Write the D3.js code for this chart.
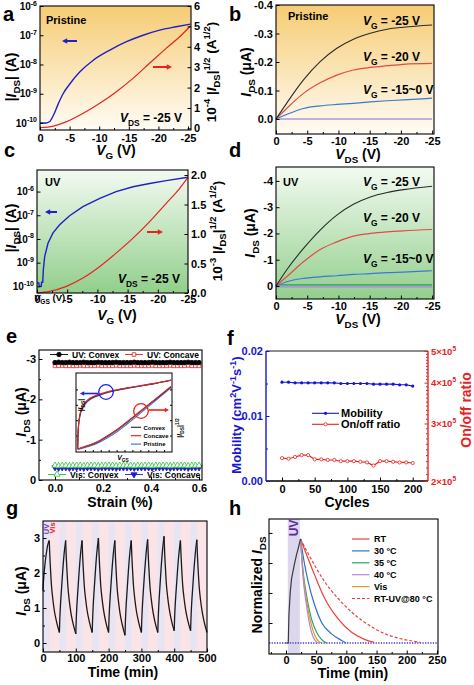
<!DOCTYPE html>
<html><head><meta charset="utf-8">
<script src="https://cdn.jsdelivr.net/npm/d3@7"></script>
<style>body{margin:0;background:#fff}svg{display:block}</style>
</head><body><svg id="c" width="474" height="685"></svg>
<script>
// ---------------- DATA ----------------
// (a) Pristine transfer curve
const aVg = [0,-1.0,-1.6,-2.25,-3.1,-3.9,-5.06,-6.74,-9,-11.8,-14.6,-17.4,-20.2,-23,-25.4];
const aIds = [1.0e-10,1.0e-10,1.1e-10,1.8e-10,4.6e-10,1.0e-9,2.2e-9,5.6e-9,1.4e-8,3.1e-8,6.0e-8,1.0e-7,1.5e-7,1.95e-7,2.4e-7];
const aVgSqrt = [0,-2.25,-4.5,-7.3,-10.1,-12.9,-15.7,-18.5,-21.3,-23.9,-25.4];
const aSqrt = [0.03,0.11,0.33,0.74,1.23,1.80,2.45,3.19,3.92,4.58,5.02];
const aLogTicks = [1e-10,1e-9,1e-8,1e-7,1e-6];
const aSqrtTicks = [0,1,2,3,4,5,6];
const vgTicks = [0,-5,-10,-15,-20,-25];
// (b) Pristine output curves
const vds = [0,-1.7,-4.4,-7.07,-9.74,-12.4,-15.1,-17.8,-20.4,-25];
const bI25 = [0,-0.055,-0.137,-0.201,-0.248,-0.280,-0.301,-0.315,-0.322,-0.330];
const bI20 = [0,-0.037,-0.090,-0.127,-0.154,-0.172,-0.181,-0.187,-0.192,-0.195];
const bI15 = [0,-0.016,-0.037,-0.046,-0.051,-0.055,-0.060,-0.064,-0.067,-0.073];
const bI0 = [0,0,0,0,0,0,0,0,0,0];
const bTicks = [0,-0.1,-0.2,-0.3,-0.4];
// (c) UV transfer curve
const cVg = [0,-0.3,-0.36,-0.7,-0.76,-0.95,-1.05,-1.27,-1.82,-2.65,-3.75,-5.4,-7.6,-10.4,-13.1,-15.9,-18.65,-21.4,-25];
const cIds = [1.4e-10,1.4e-10,1.0e-10,1.0e-10,1.5e-10,1.5e-10,5.0e-10,1.8e-9,6.6e-9,1.8e-8,4.0e-8,9.5e-8,2.3e-7,5.2e-7,1.0e-6,1.6e-6,2.2e-6,2.9e-6,4.0e-6];
const cVgSqrt = [0,-2.1,-4.86,-7.6,-10.4,-13.1,-15.9,-18.65,-21.4,-23.6,-25];
const cSqrt = [0,0.028,0.113,0.254,0.45,0.676,0.93,1.21,1.52,1.77,1.96];
const cSqrtTicks = [0,0.5,1.0,1.5,2.0];
// (d) UV output curves
const dI25 = [0,-0.61,-1.43,-2.13,-2.70,-3.11,-3.39,-3.56,-3.67,-3.80];
const dI20 = [0,-0.35,-0.92,-1.39,-1.68,-1.90,-2.00,-2.06,-2.10,-2.15];
const dI15 = [0,-0.16,-0.29,-0.35,-0.39,-0.44,-0.47,-0.51,-0.53,-0.58];
const dIg = [-0.04,-0.04,-0.04,-0.04,-0.04,-0.04,-0.04,-0.04,-0.04,-0.04];
const dI0 = [0.03,0.03,0.03,0.03,0.03,0.03,0.03,0.03,0.03,0.03];
const dTicks = [0,-1,-2,-3,-4];
// (e) strain
const strain = [0,0.015,0.03,0.045,0.06,0.075,0.09,0.105,0.12,0.135,0.15,0.165,0.18,0.195,0.21,0.225,0.24,0.255,0.27,0.285,0.3,0.315,0.33,0.345,0.36,0.375,0.39,0.405,0.42,0.435,0.45,0.465,0.48,0.495,0.51,0.525,0.54,0.555,0.57,0.585,0.6];
const uvConvex = [-2.91,-2.92,-2.91,-2.91,-2.92,-2.91,-2.91,-2.91,-2.92,-2.91,-2.91,-2.91,-2.92,-2.91,-2.91,-2.91,-2.91,-2.92,-2.91,-2.91,-2.91,-2.91,-2.92,-2.91,-2.91,-2.91,-2.91,-2.92,-2.91,-2.91,-2.91,-2.91,-2.92,-2.91,-2.91,-2.91,-2.91,-2.92,-2.91,-2.91,-2.91];
const uvConcave = [-2.83,-2.83,-2.84,-2.83,-2.83,-2.83,-2.83,-2.84,-2.83,-2.83,-2.83,-2.83,-2.84,-2.83,-2.83,-2.83,-2.83,-2.84,-2.83,-2.83,-2.83,-2.83,-2.84,-2.83,-2.83,-2.83,-2.83,-2.84,-2.83,-2.83,-2.83,-2.83,-2.84,-2.83,-2.83,-2.83,-2.83,-2.84,-2.83,-2.83,-2.83];
const visConvex = [-0.36,-0.35,-0.36,-0.36,-0.35,-0.36,-0.36,-0.36,-0.35,-0.36,-0.36,-0.36,-0.35,-0.36,-0.36,-0.36,-0.36,-0.35,-0.36,-0.36,-0.36,-0.36,-0.35,-0.36,-0.36,-0.36,-0.36,-0.35,-0.36,-0.36,-0.36,-0.36,-0.35,-0.36,-0.36,-0.36,-0.36,-0.35,-0.36,-0.36,-0.36];
const visConcave = [-0.31,-0.30,-0.31,-0.31,-0.30,-0.31,-0.31,-0.31,-0.30,-0.31,-0.31,-0.31,-0.30,-0.31,-0.31,-0.31,-0.31,-0.30,-0.31,-0.31,-0.31,-0.31,-0.30,-0.31,-0.31,-0.31,-0.31,-0.30,-0.31,-0.31,-0.31,-0.31,-0.30,-0.31,-0.31,-0.31,-0.31,-0.30,-0.31,-0.31,-0.31];
const eTicks = [0,-1,-2,-3];
const strainTicks = [0,0.2,0.4,0.6];
// (e) inset, normalized units
const insUx = [0.007,0.01,0.017,0.031,0.059,0.11,0.197,0.283,0.386,0.524,0.662,0.8,0.99];
const insUConvex = [0.033,0.198,0.342,0.465,0.568,0.65,0.712,0.749,0.782,0.815,0.844,0.872,0.918];
const insUConcave = [0.033,0.205,0.352,0.478,0.58,0.66,0.72,0.756,0.788,0.82,0.848,0.875,0.92];
const insUPristine = [0.033,0.19,0.33,0.452,0.556,0.64,0.705,0.744,0.779,0.813,0.843,0.872,0.922];
const insLx = [0.007,0.11,0.214,0.317,0.421,0.524,0.628,0.731,0.834,0.99];
const insLConvex = [0.025,0.066,0.115,0.189,0.272,0.37,0.473,0.576,0.679,0.835];
const insLConcave = [0.025,0.07,0.12,0.196,0.28,0.378,0.48,0.582,0.684,0.84];
const insLPristine = [0.02,0.055,0.1,0.17,0.25,0.347,0.45,0.556,0.662,0.825];
// (f) cycling
const cycles = [0,10,20,30,40,50,60,70,80,90,100,110,120,130,140,150,160,170,180,190,200];
const mobility = [0.0152,0.0152,0.0151,0.0151,0.0151,0.0151,0.0151,0.0151,0.0151,0.0150,0.0150,0.0150,0.0150,0.0150,0.0149,0.0149,0.0149,0.0149,0.0148,0.0148,0.0146];
const onoff = [2.35e5,2.34e5,2.37e5,2.40e5,2.40e5,2.33e5,2.33e5,2.32e5,2.32e5,2.30e5,2.30e5,2.30e5,2.29e5,2.28e5,2.23e5,2.30e5,2.30e5,2.29e5,2.28e5,2.28e5,2.27e5];
const mobTicks = [0,0.01,0.02];
const ratioTicks = [2e5,3e5,4e5,5e5];
const cycleTicks = [0,50,100,150,200];
// (g) UV/Vis switching
const gT = [0,1,3,6,10,14,19,21,23,26,30,35,41,
50,51,53,56,60,64,69,71,73,76,80,85,91,
100,101,103,106,110,114,119,121,123,126,130,135,141,
150,151,153,156,160,164,169,171,173,176,180,185,191,
200,201,203,206,210,214,219,221,223,226,230,235,241,
250,251,253,256,260,264,269,271,273,276,280,285,291,
300,301,303,306,310,314,319,321,323,326,330,335,341,
350,351,353,356,360,364,369,371,373,376,380,385,391,
400,401,403,406,410,414,419,421,423,426,430,435,441,
450,451,453,456,460,464,469,471,473,476,480,485,491,500];
const gI = [1.5,1.7,1.95,2.25,2.55,2.78,2.93,2.46,2.09,1.62,1.25,0.90,0.62,
0.30,0.62,1.04,1.48,2.04,2.51,2.93,2.45,2.08,1.60,1.22,0.87,0.58,
0.26,0.58,1.01,1.46,2.02,2.50,2.93,2.46,2.09,1.62,1.25,0.90,0.62,
0.30,0.62,1.06,1.52,2.08,2.57,3.00,2.51,2.14,1.65,1.27,0.92,0.62,
0.30,0.62,1.04,1.48,2.04,2.51,2.93,2.44,2.06,1.58,1.20,0.84,0.55,
0.22,0.55,0.98,1.44,2.01,2.50,2.93,2.46,2.09,1.62,1.25,0.90,0.62,
0.30,0.62,1.04,1.50,2.06,2.53,2.96,2.48,2.11,1.63,1.26,0.91,0.62,
0.30,0.63,1.07,1.54,2.12,2.61,3.05,2.56,2.19,1.70,1.32,0.97,0.67,
0.35,0.66,1.07,1.51,2.05,2.52,2.93,2.47,2.10,1.64,1.28,0.94,0.66,
0.35,0.66,1.08,1.52,2.07,2.53,2.95,2.47,2.10,1.63,1.25,0.91,0.62,0.30];
const gUVstart = [0,50,100,150,200,250,300,350,400,450];
const gTimeTicks = [0,100,200,300,400,500];
const gITicks = [0,1,2,3];
// (h) decay at temperatures
const hRiseT = [-1,3.8,4.9,7.1,9.3,13.7,17.5,20.3,24.1];
const hRiseN = [0,0,0.27,0.49,0.62,0.75,0.85,0.91,1.0];
const hRTt = [24.1,36.7,47.7,64,86,108,130,146];
const hRTn = [1.0,0.81,0.65,0.43,0.235,0.106,0.035,0.006];
const h30t = [24.1,31,36.7,47.7,58.7,75,91.5,99.8];
const h30n = [1.0,0.75,0.59,0.36,0.2,0.09,0.026,0];
const h35t = [24.1,28.5,34,42.3,50.5,58.7,67];
const h35n = [1.0,0.68,0.46,0.23,0.106,0.035,0];
const h40t = [24.1,28.5,34,39.5,45,50.5,53.3];
const h40n = [1.0,0.62,0.36,0.17,0.058,0.01,0];
const hVist = [24.1,28.5,34,42.3,47.7,53.3,58.7];
const hVisn = [1.0,0.65,0.41,0.17,0.074,0.02,0];
const hUV80t = [24.1,36.7,64,86,108,130,157,185,212,223];
const hUV80n = [1.0,0.86,0.59,0.43,0.30,0.20,0.106,0.048,0.016,0.006];
const hLegend = ['RT','30 °C','35 °C','40 °C','Vis','RT-UV@80 °C'];
const hTimeTicks = [0,50,100,150,200,250];
const hNTicks = [0.192,0.481,0.769,1.058];

// ---------------- HELPERS ----------------
const FONT = 'Arial, "Liberation Sans", Helvetica, sans-serif';
const BLUE = '#2020c8', RED = '#e8221f';
const svg = d3.select('#c');
svg.append('rect').attr('width',474).attr('height',685).attr('fill','#fff');
const defs = svg.append('defs');
function grad(id,c0,c1){const g=defs.append('linearGradient').attr('id',id).attr('x1',0).attr('y1',0).attr('x2',0).attr('y2',1);
  g.append('stop').attr('offset','0%').attr('stop-color',c0);g.append('stop').attr('offset','100%').attr('stop-color',c1);}
grad('gy','#f6cc74','#fffcf5');
grad('gg','#f3faf1','#92cf8c');

function rich(sel, parts, fs){
  let cur=0;
  parts.forEach(p=>{
    if(typeof p==='string') p={t:p};
    const ts=sel.append('tspan').text(p.t);
    const tgt = p.s==='b'? 0.3*fs : (p.s==='p'? -0.42*fs : 0);
    if(tgt!==cur) ts.attr('dy',(tgt-cur).toFixed(2));
    cur=tgt;
    if(p.s) ts.attr('font-size',(fs*0.7).toFixed(2));
    if(p.i) ts.attr('font-style','italic');
  });
}
function txt(g,x,y,parts,fs,o={}){
  const t=g.append('text').attr('font-size',fs).attr('font-family',FONT).attr('font-weight',o.w||'bold')
    .attr('fill',o.fill||'#000').attr('text-anchor',o.anchor||'start')
    .attr('transform',`translate(${x},${y})`+(o.rot?` rotate(${o.rot})`:''));
  rich(t, typeof parts==='string'?[parts]:parts, fs);
  return t;
}
function sty(a,fs,col){
  a.attr('font-family',FONT).attr('font-size',fs).attr('font-weight','bold');
  a.select('.domain').remove();
  a.selectAll('.tick line').attr('stroke',col||'#000');
  a.selectAll('.tick text').attr('fill',col||'#000');
  return a;
}
const none=()=> '';
function axB(g,sc,y0,vals,fmt,fs,o={}){
  if(o.minor) sty(g.append('g').attr('transform',`translate(0,${y0})`).call(d3.axisBottom(sc).tickValues(o.minor).tickSizeInner(-2).tickSizeOuter(0).tickFormat(none)),fs,o.col);
  return sty(g.append('g').attr('transform',`translate(0,${y0})`).call(d3.axisBottom(sc).tickValues(vals).tickSizeInner(-3.5).tickSizeOuter(0).tickPadding(o.pad||4).tickFormat(fmt)),fs,o.col);
}
function axL(g,sc,x0,vals,fmt,fs,o={}){
  if(o.minor) sty(g.append('g').attr('transform',`translate(${x0},0)`).call(d3.axisLeft(sc).tickValues(o.minor).tickSizeInner(-2).tickSizeOuter(0).tickFormat(none)),fs,o.col);
  return sty(g.append('g').attr('transform',`translate(${x0},0)`).call(d3.axisLeft(sc).tickValues(vals).tickSizeInner(-3.5).tickSizeOuter(0).tickPadding(o.pad||3).tickFormat(fmt)),fs,o.col);
}
function axR(g,sc,x0,vals,fmt,fs,o={}){
  if(o.minor) sty(g.append('g').attr('transform',`translate(${x0},0)`).call(d3.axisRight(sc).tickValues(o.minor).tickSizeInner(-2).tickSizeOuter(0).tickFormat(none)),fs,o.col);
  return sty(g.append('g').attr('transform',`translate(${x0},0)`).call(d3.axisRight(sc).tickValues(vals).tickSizeInner(-3.5).tickSizeOuter(0).tickPadding(o.pad||3).tickFormat(fmt)),fs,o.col);
}
function supLabels(a,fs){
  a.selectAll('.tick text').each(function(d){ rich(d3.select(this),['10',{t:String(Math.round(Math.log10(d))),s:'p'}],fs); });
}
function line(g,xs,ys,sx,sy,col,w,o={}){
  const pts=d3.zip(xs,ys);
  const p=g.append('path').datum(pts).attr('fill','none').attr('stroke',col).attr('stroke-width',w)
    .attr('d',d3.line().x(d=>sx(d[0])).y(d=>sy(d[1])).curve(o.curve||d3.curveMonotoneX));
  if(o.dash) p.attr('stroke-dasharray',o.dash);
  return p;
}
function box(g,L,T,R,B,col){ g.append('rect').attr('x',L).attr('y',T).attr('width',R-L).attr('height',B-T).attr('fill','none').attr('stroke',col||'#000').attr('stroke-width',1.1); }
function arrow(g,x1,x2,y,col,w,hs){
  const dir=Math.sign(x2-x1);
  g.append('line').attr('x1',x1).attr('x2',x2-dir*hs).attr('y1',y).attr('y2',y).attr('stroke',col).attr('stroke-width',w||2);
  g.append('path').attr('d',`M${x2},${y}L${x2-dir*hs*1.3},${y-hs*0.7}L${x2-dir*hs*1.3},${y+hs*0.7}Z`).attr('fill',col);
}
const fmtNeg = d=> (d===0?'0':String(d));
const P=(t,s,i)=>({t,s,i});

// ---------------- PANEL a ----------------
(function(){
  const L=40,R=191,T=6,B=130, g=svg.append('g');
  const x=d3.scaleLinear().domain([0,-25.5]).range([L,R]);
  const yl=d3.scaleLog().domain([Math.pow(10,-10.24),1e-6]).range([B,T]);
  const yr=d3.scaleLinear().domain([-0.08,6]).range([B,T]);
  g.append('rect').attr('x',L).attr('y',T).attr('width',R-L).attr('height',B-T).attr('fill','url(#gy)');
  line(g,aVg,aIds,x,yl,BLUE,1.4);
  line(g,aVgSqrt,aSqrt,x,yr,RED,1.2);
  box(g,L,T,R,B);
  axB(g,x,B,vgTicks,fmtNeg,11,{minor:[-2.5,-7.5,-12.5,-17.5,-22.5]});
  supLabels(axL(g,yl,L,aLogTicks,none,10),10);
  axR(g,yr,R,aSqrtTicks,d=>String(d),11);
  arrow(g,77,62,41,BLUE,2,4);
  arrow(g,153,172,67,RED,2,4);
  txt(g,46,24,'Pristine',11);
  txt(g,120,122,[P('V',0,1),P('DS','b'),' = -25 V'],12);
  txt(g,16,77,['|',P('I',0,1),P('DS','b'),'| (A)'],14,{rot:-90,anchor:'middle'});
  txt(g,216,72,['10',P('-4','p'),' |',P('I',0,1),P('DS','b'),'|',P('1/2','p'),' (A',P('1/2','p'),')'],13.5,{rot:-90,anchor:'middle'});
  txt(g,116,155,[P('V',0,1),P('G','b'),' (V)'],14,{anchor:'middle'});
  txt(g,3,21,'a',20);
})();

// ---------------- PANEL b ----------------
(function(){
  const L=276,R=434,T=5,B=134, g=svg.append('g');
  const x=d3.scaleLinear().domain([0,-25.3]).range([L,R]);
  const y=d3.scaleLinear().domain([0.0526,-0.4]).range([B,T]);
  g.append('rect').attr('x',L).attr('y',T).attr('width',R-L).attr('height',B-T).attr('fill','url(#gy)');
  line(g,vds,bI0,x,y,'#a99ad6',1.6);
  line(g,vds,bI15,x,y,'#3a78d8',1.2);
  line(g,vds,bI20,x,y,'#e24a45',1.2);
  line(g,vds,bI25,x,y,'#2a2a2a',1.1);
  box(g,L,T,R,B);
  axB(g,x,B,vgTicks,fmtNeg,11,{minor:[-2.5,-7.5,-12.5,-17.5,-22.5],pad:3});
  axL(g,y,L,bTicks,d=>d.toFixed(1),11);
  txt(g,288,20,'Pristine',11);
  txt(g,363,25,[P('V',0,1),P('G','b'),' = -25 V'],12);
  txt(g,363,61,[P('V',0,1),P('G','b'),' = -20 V'],12);
  txt(g,363,94,[P('V',0,1),P('G','b'),' = -15~0 V'],12);
  txt(g,251,72,[P('I',0,1),P('DS','b'),' (μA)'],14,{rot:-90,anchor:'middle'});
  txt(g,358,159,[P('V',0,1),P('DS','b'),' (V)'],14,{anchor:'middle'});
  txt(g,229,21,'b',20);
})();

// ---------------- PANEL c ----------------
(function(){
  const L=37,R=188,T=170,B=293, g=svg.append('g');
  const x=d3.scaleLinear().domain([0,-25]).range([L,R]);
  const yl=d3.scaleLog().domain([Math.pow(10,-10.28),Math.pow(10,-5.09)]).range([B,T]);
  const yr=d3.scaleLinear().domain([0,2.085]).range([B,T]);
  g.append('rect').attr('x',L).attr('y',T).attr('width',R-L).attr('height',B-T).attr('fill','url(#gg)');
  line(g,cVg,cIds,x,yl,BLUE,1.4,{curve:d3.curveLinear});
  line(g,cVgSqrt,cSqrt,x,yr,RED,1.2);
  box(g,L,T,R,B);
  axB(g,x,B,vgTicks,fmtNeg,11,{minor:[-2.5,-7.5,-12.5,-17.5,-22.5],pad:2.5});
  supLabels(axL(g,yl,L,aLogTicks,none,10),10);
  axR(g,yr,R,cSqrtTicks,d=>d.toFixed(1),11);
  arrow(g,57,45,212,BLUE,2,4);
  arrow(g,147,163,232,RED,2,4);
  txt(g,45,186,'UV',11);
  txt(g,118,283,[P('V',0,1),P('DS','b'),' = -25 V'],12);
  txt(g,34,301,[P('V',0,1),P('GS','b'),' (V)'],9.5);
  txt(g,16,228,['|',P('I',0,1),P('DS','b'),'| (A)'],14,{rot:-90,anchor:'middle'});
  txt(g,222,231,['10',P('-3','p'),' |',P('I',0,1),P('DS','b'),'|',P('1/2','p'),' (A',P('1/2','p'),')'],13.5,{rot:-90,anchor:'middle'});
  txt(g,117,319.5,[P('V',0,1),P('G','b'),' (V)'],14,{anchor:'middle'});
  txt(g,4,157,'c',20);
})();

// ---------------- PANEL d ----------------
(function(){
  const L=276,R=434,T=167,B=299, g=svg.append('g');
  const x=d3.scaleLinear().domain([0,-25.3]).range([L,R]);
  const y=d3.scaleLinear().domain([0.495,-4.53]).range([B,T]);
  g.append('rect').attr('x',L).attr('y',T).attr('width',R-L).attr('height',B-T).attr('fill','url(#gg)');
  line(g,vds,dI0,x,y,'#a99ad6',2);
  line(g,vds,dIg,x,y,'#2f9a5a',1.2);
  line(g,vds,dI15,x,y,'#3a78d8',1.2);
  line(g,vds,dI20,x,y,'#e24a45',1.2);
  line(g,vds,dI25,x,y,'#2a2a2a',1.1);
  box(g,L,T,R,B);
  axB(g,x,B,vgTicks,fmtNeg,11,{minor:[-2.5,-7.5,-12.5,-17.5,-22.5],pad:3});
  axL(g,y,L,dTicks,fmtNeg,11);
  txt(g,283,186,'UV',11);
  txt(g,363,186,[P('V',0,1),P('G','b'),' = -25 V'],12);
  txt(g,363,222,[P('V',0,1),P('G','b'),' = -20 V'],12);
  txt(g,363,263,[P('V',0,1),P('G','b'),' = -15~0 V'],12);
  txt(g,255,233,[P('I',0,1),P('DS','b'),' (μA)'],14,{rot:-90,anchor:'middle'});
  txt(g,358,324,[P('V',0,1),P('DS','b'),' (V)'],14,{anchor:'middle'});
  txt(g,229,157,'d',20);
})();

// ---------------- PANEL e ----------------
(function(){
  const L=39,R=202,T=350,B=480, g=svg.append('g');
  const x=d3.scaleLinear().domain([-0.0667,0.6125]).range([L,R]);
  const y=d3.scaleLinear().domain([0,-3.223]).range([B,T]);
  const rows=[
    {v:visConcave,col:'#1d1dc0',sym:d3.symbolTriangle,rot:180,fill:'#1d1dc0'},
    {v:visConvex,col:'#2fbf3a',sym:d3.symbolTriangle,rot:0,fill:'#fff'},
    {v:uvConcave,col:'#e8221f',sym:d3.symbolSquare,rot:0,fill:'#fff'},
    {v:uvConvex,col:'#000',sym:d3.symbolCircle,rot:0,fill:'#000'}];
  rows.forEach(r=>{
    line(g,strain,r.v,x,y,r.col,0.8,{curve:d3.curveLinear});
    g.append('g').selectAll('path').data(d3.zip(strain,r.v)).join('path')
      .attr('d',d3.symbol().type(r.sym).size(r.sym===d3.symbolSquare?13:16))
      .attr('transform',d=>`translate(${x(d[0])},${y(d[1])}) rotate(${r.rot})`)
      .attr('fill',r.fill).attr('stroke',r.col).attr('stroke-width',0.8);
  });
  box(g,L,T,R,B);
  axB(g,x,B,strainTicks,d=>d.toFixed(1),11,{minor:[0.1,0.3,0.5]});
  axL(g,y,L,eTicks,fmtNeg,11,{minor:[-0.5,-1.5,-2.5]});
  // legends
  const leg=(lx,ly,col,sym,rot,fill,label)=>{
    g.append('line').attr('x1',lx).attr('x2',lx+18).attr('y1',ly).attr('y2',ly).attr('stroke',col).attr('stroke-width',0.9);
    g.append('path').attr('d',d3.symbol().type(sym).size(sym===d3.symbolSquare?13:16)).attr('transform',`translate(${lx+9},${ly}) rotate(${rot})`).attr('fill',fill).attr('stroke',col).attr('stroke-width',0.8);
    txt(g,lx+22,ly+3,label,8.5);
  };
  leg(50,354.5,'#000',d3.symbolCircle,0,'#000','UV: Convex');
  leg(125,354.5,'#e8221f',d3.symbolSquare,0,'#fff','UV: Concave');
  leg(48,474.5,'#2fbf3a',d3.symbolTriangle,0,'#fff','Vis: Convex');
  leg(125,474.5,'#1d1dc0',d3.symbolTriangle,180,'#1d1dc0','Vis: Concave');
  // inset
  const iL=76,iR=172,iT=373,iB=452;
  g.append('rect').attr('x',iL).attr('y',iT).attr('width',iR-iL).attr('height',iB-iT).attr('fill','#fff').attr('stroke','#000').attr('stroke-width',1);
  const ix=d3.scaleLinear().domain([0,1]).range([iL+1,iR]);
  const iy=d3.scaleLinear().domain([0,1]).range([iB-1,iT+1]);
  const it=d3.range(1,12).map(i=>i/12);
  g.append('g').attr('transform',`translate(0,${iB})`).call(d3.axisBottom(ix).tickValues(it).tickSizeInner(-2).tickSizeOuter(0).tickFormat(none)).call(s=>s.select('.domain').remove());
  g.append('g').attr('transform',`translate(${iL},0)`).call(d3.axisLeft(iy).tickValues([0.2,0.4,0.6,0.8]).tickSizeInner(-2).tickSizeOuter(0).tickFormat(none)).call(s=>s.select('.domain').remove());
  g.append('g').attr('transform',`translate(${iR},0)`).call(d3.axisRight(iy).tickValues([0.2,0.4,0.6,0.8]).tickSizeInner(-2).tickSizeOuter(0).tickFormat(none)).call(s=>s.select('.domain').remove());
  line(g,insUx,insUPristine,ix,iy,'#3a78d8',1.1);
  line(g,insUx,insUConvex,ix,iy,'#333',1.1);
  line(g,insUx,insUConcave,ix,iy,'#e8221f',1.1);
  line(g,insLx,insLPristine,ix,iy,'#3a78d8',1.1);
  line(g,insLx,insLConvex,ix,iy,'#333',1.1);
  line(g,insLx,insLConcave,ix,iy,'#e8221f',1.1);
  g.append('circle').attr('cx',106).attr('cy',392).attr('r',7.3).attr('fill','none').attr('stroke','#2020e0').attr('stroke-width',1.3);
  g.append('circle').attr('cx',141).attr('cy',411).attr('r',7.3).attr('fill','none').attr('stroke','#e8221f').attr('stroke-width',1.3);
  arrow(g,98,80,393.5,'#2020e0',1.6,3.2);
  arrow(g,149,169,410,'#e8221f',1.6,3.2);
  [['#333','Convex'],['#e8221f','Concave'],['#3a78d8','Pristine']].forEach((d,i)=>{
    const ly=427.3+i*8.4;
    g.append('line').attr('x1',131).attr('x2',141).attr('y1',ly).attr('y2',ly).attr('stroke',d[0]).attr('stroke-width',1.2);
    txt(g,143.5,ly+2.2,d[1],6);
  });
  txt(g,83,405,['|',P('I',0,1),P('DS','b'),'|'],7,{rot:-90,anchor:'middle'});
  txt(g,182,428,['|',P('I',0,1),P('DS','b'),'|',P('1/2','p')],7,{rot:-90,anchor:'middle'});
  txt(g,123,460,[P('V',0,1),P('GS','b')],7,{anchor:'middle'});
  txt(g,26,412,[P('I',0,1),P('DS','b'),' (μA)'],14,{rot:-90,anchor:'middle'});
  txt(g,120,507,'Strain (%)',14,{anchor:'middle'});
  txt(g,6,343,'e',20);
})();

// ---------------- PANEL f ----------------
(function(){
  const L=266,R=428,T=351,B=481, g=svg.append('g');
  const FB='#1515d8', FR='#e8221f';
  const x=d3.scaleLinear().domain([-24.5,223.4]).range([L,R]);
  const yl=d3.scaleLinear().domain([0,0.02]).range([B,T]);
  const yr=d3.scaleLog().domain([2e5,5e5]).range([B,T]);
  g.append('line').attr('x1',L).attr('x2',R).attr('y1',T).attr('y2',T).attr('stroke','#666').attr('stroke-width',1.3);
  g.append('line').attr('x1',L).attr('x2',R).attr('y1',B).attr('y2',B).attr('stroke','#000').attr('stroke-width',1.3);
  g.append('line').attr('x1',L).attr('x2',L).attr('y1',T).attr('y2',B).attr('stroke',FB).attr('stroke-width',1.4);
  g.append('line').attr('x1',R).attr('x2',R).attr('y1',T).attr('y2',B).attr('stroke',FR).attr('stroke-width',1.4);
  line(g,cycles,mobility,x,yl,FB,1.1,{curve:d3.curveLinear});
  g.append('g').selectAll('circle').data(d3.zip(cycles,mobility)).join('circle').attr('cx',d=>x(d[0])).attr('cy',d=>yl(d[1])).attr('r',1.6).attr('fill',FB);
  line(g,cycles,onoff,x,yr,FR,1.1,{curve:d3.curveLinear});
  g.append('g').selectAll('circle').data(d3.zip(cycles,onoff)).join('circle').attr('cx',d=>x(d[0])).attr('cy',d=>yr(d[1])).attr('r',1.6).attr('fill','#fff').attr('stroke',FR).attr('stroke-width',0.8);
  axB(g,x,B,cycleTicks,d=>String(d),11,{minor:[25,75,125,175]});
  axL(g,yl,L,mobTicks,d=>d.toFixed(2),11,{col:FB,minor:[0.005,0.015]});
  const minor=d3.range(21,50).map(v=>v*1e4).filter(v=>v%1e5!==0);
  const ar=axR(g,yr,R,ratioTicks,none,9.5,{col:FR,minor:minor,pad:3});
  ar.selectAll('.tick text').each(function(d){ rich(d3.select(this),[String(Math.round(d/1e5))+'×10',{t:'5',s:'p'}],9.5); });
  // legend
  g.append('line').attr('x1',312).attr('x2',339).attr('y1',413.3).attr('y2',413.3).attr('stroke',FB).attr('stroke-width',1.1);
  g.append('circle').attr('cx',325.5).attr('cy',413.3).attr('r',1.6).attr('fill',FB);
  g.append('line').attr('x1',312).attr('x2',339).attr('y1',424.3).attr('y2',424.3).attr('stroke',FR).attr('stroke-width',1.1);
  g.append('circle').attr('cx',325.5).attr('cy',424.3).attr('r',1.6).attr('fill','#fff').attr('stroke',FR).attr('stroke-width',0.8);
  txt(g,341,417.3,'Mobility',11);
  txt(g,341,428.3,'On/off ratio',11);
  txt(g,241,415,['Mobility (cm',P('2','p'),'V',P('-1','p'),'s',P('-1','p'),')'],13,{rot:-90,anchor:'middle',fill:FB});
  txt(g,471,410,'On/off ratio',14,{rot:-90,anchor:'middle',fill:FR});
  txt(g,347,507,'Cycles',14,{anchor:'middle'});
  txt(g,227,345,'f',20);
})();

// ---------------- PANEL g ----------------
(function(){
  const L=43,R=207,T=521,B=652, g=svg.append('g');
  const x=d3.scaleLinear().domain([0,500]).range([L,R]);
  const y=d3.scaleLinear().domain([-0.257,3.486]).range([B,T]);
  g.append('rect').attr('x',L).attr('y',T).attr('width',R-L).attr('height',B-T).attr('fill','#fbe4e8');
  g.append('g').selectAll('rect').data(gUVstart).join('rect')
    .attr('x',d=>x(d)).attr('width',d=>x(d+20)-x(d)).attr('y',T).attr('height',B-T).attr('fill','#e7e4f4');
  // split into monotone pieces to keep sharp cusps
  const pts=d3.zip(gT,gI); const pieces=[]; let cur=[pts[0]];
  for(let i=1;i<pts.length;i++){
    cur.push(pts[i]);
    if(i<pts.length-1){ const a=pts[i][1]-pts[i-1][1], b=pts[i+1][1]-pts[i][1]; if(a*b<0){pieces.push(cur);cur=[pts[i]];} }
  }
  pieces.push(cur);
  const lg=d3.line().x(d=>x(d[0])).y(d=>y(d[1])).curve(d3.curveMonotoneX);
  g.append('g').selectAll('path').data(pieces).join('path').attr('d',lg).attr('fill','none').attr('stroke','#1a1a1a').attr('stroke-width',1.3).attr('stroke-linejoin','round');
  box(g,L,T,R,B);
  axB(g,x,B,gTimeTicks,d=>String(d),11,{minor:[50,150,250,350,450],pad:2.5});
  axL(g,y,L,gITicks,d=>String(d),11,{minor:[0.5,1.5,2.5]});
  txt(g,48.5,529,'UV',7.5,{rot:-90,anchor:'middle',fill:'#6a3db8'});
  txt(g,55,528,'Vis',7.5,{rot:-90,anchor:'middle',fill:'#e8221f'});
  txt(g,26,591,[P('I',0,1),P('DS','b'),' (μA)'],14,{rot:-90,anchor:'middle'});
  txt(g,123,677,'Time (min)',14,{anchor:'middle'});
  txt(g,6,515,'g',20);
})();

// ---------------- PANEL h ----------------
(function(){
  const L=269,R=438,T=519,B=654, g=svg.append('g');
  const x=d3.scaleLinear().domain([-28.1,251.7]).range([L,R]);
  const y=d3.scaleLinear().domain([-0.106,1.192]).range([B,T]);
  g.append('rect').attr('x',x(3)).attr('y',T).attr('width',x(23)-x(3)).attr('height',B-T).attr('fill','#dcd7ed');
  g.append('line').attr('x1',L).attr('x2',R).attr('y1',y(0)).attr('y2',y(0)).attr('stroke','#4a3ad0').attr('stroke-width',1.4).attr('stroke-dasharray','1.3,1.3');
  line(g,hUV80t,hUV80n,x,y,'#e8403a',1.2,{dash:'3,2'});
  line(g,hRTt,hRTn,x,y,'#e8403a',1.2);
  line(g,h30t,h30n,x,y,'#2f6fd0',1.2);
  line(g,h35t,h35n,x,y,'#2aa36c',1.2);
  line(g,hVist,hVisn,x,y,'#d9a020',1.2);
  line(g,h40t,h40n,x,y,'#b884da',1.2);
  line(g,hRiseT,hRiseN,x,y,'#3a3a3a',1.2,{curve:d3.curveLinear});
  box(g,L,T,R,B);
  axB(g,x,B,hTimeTicks,d=>String(d),11,{minor:[-25,25,75,125,175,225],pad:2});
  axL(g,y,L,hNTicks,none,11);
  const cols=['#e8403a','#2f6fd0','#2aa36c','#b884da','#d9a020','#e8403a'];
  hLegend.forEach((s,i)=>{
    const ly=539+i*11.9;
    const l=g.append('line').attr('x1',352).attr('x2',369.5).attr('y1',ly).attr('y2',ly).attr('stroke',cols[i]).attr('stroke-width',1.2);
    if(i===5) l.attr('stroke-dasharray','3,2');
    txt(g,374,ly+3.2,s,9);
  });
  txt(g,298,528,'UV',12,{rot:-90,anchor:'middle',fill:'#5a2ca0'});
  txt(g,262,585,['Normalized ',P('I',0,1),P('DS','b')],14,{rot:-90,anchor:'middle'});
  txt(g,353,678,'Time (min)',14,{anchor:'middle'});
  txt(g,229,515,'h',20);
})();
</script></body></html>
